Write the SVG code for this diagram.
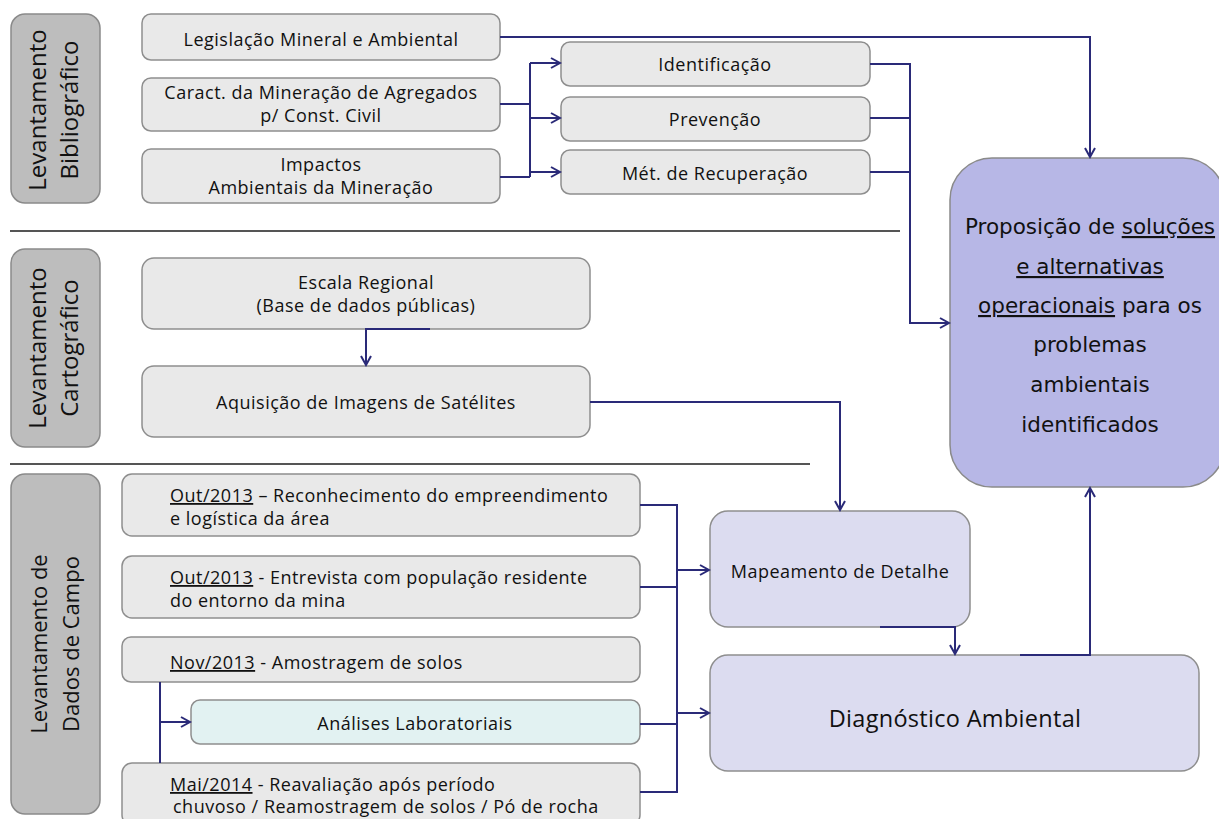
<svg xmlns="http://www.w3.org/2000/svg" width="1219" height="819" viewBox="0 0 1219 819">
<defs>
<marker id="ah" markerWidth="12" markerHeight="12" refX="10" refY="6" orient="auto" markerUnits="userSpaceOnUse">
<path d="M1,1 L10,6 L1,11" fill="none" stroke="#2a2a78" stroke-width="2"/>
</marker>
<style>
.side{fill:#bdbdbd;stroke:#8a8a8a;stroke-width:1.5}
.nd{fill:#e9e9e9;stroke:#8e8e8e;stroke-width:1.5}
.lab{fill:#e2f2f2;stroke:#8e8e8e;stroke-width:1.5}
.lil{fill:#dcdcf0;stroke:#8e8e8e;stroke-width:1.5}
.prop{fill:#b7b7e6;stroke:#8a8a8a;stroke-width:1.5}
.st{font-family:"Open Sans","Noto Sans",sans-serif;font-size:24px;fill:#111;text-anchor:middle}
.t{font-family:"Open Sans","Noto Sans",sans-serif;font-size:18px;letter-spacing:0.5px;fill:#111;text-anchor:middle}
.tl{font-family:"Open Sans","Noto Sans",sans-serif;font-size:18px;letter-spacing:0.5px;fill:#111}
.pt{font-family:"DejaVu Sans",Verdana,sans-serif;font-size:21.5px;fill:#111;text-anchor:middle}
.c{fill:none;stroke:#2a2a78;stroke-width:2}
.sep{stroke:#555;stroke-width:2}
</style>
</defs>
<rect width="1219" height="819" fill="#fff"/>
<line class="sep" x1="10" y1="231" x2="900" y2="231"/>
<line class="sep" x1="10" y1="464" x2="810" y2="464"/>

<g id="side1"><rect class="side" x="11" y="14" width="89" height="189" rx="14"/>
<text class="st" transform="translate(46,110) rotate(-90)">Levantamento</text>
<text class="st" transform="translate(78,110) rotate(-90)">Bibliográfico</text></g>
<g id="side2"><rect class="side" x="11" y="249" width="89" height="198" rx="14"/>
<text class="st" transform="translate(46,348) rotate(-90)">Levantamento</text>
<text class="st" transform="translate(78,348) rotate(-90)">Cartográfico</text></g>
<g id="side3"><rect class="side" x="11" y="474" width="89" height="340" rx="14"/>
<text class="st" style="font-size:22px" transform="translate(47,644) rotate(-90)">Levantamento de</text>
<text class="st" style="font-size:22px" transform="translate(79,644) rotate(-90)">Dados de Campo</text></g>

<g id="legislacao"><rect class="nd" x="142" y="14" width="358" height="46" rx="9"/>
<text class="t" x="321" y="46">Legislação Mineral e Ambiental</text></g>
<g id="caract"><rect class="nd" x="142" y="78" width="358" height="53" rx="9"/>
<text class="t" x="321" y="99">Caract. da Mineração de Agregados</text>
<text class="t" x="321" y="122">p/ Const. Civil</text></g>
<g id="impactos"><rect class="nd" x="142" y="149" width="358" height="54" rx="9"/>
<text class="t" x="321" y="171">Impactos</text>
<text class="t" x="321" y="194">Ambientais da Mineração</text></g>
<g id="identificacao"><rect class="nd" x="561" y="42" width="309" height="44" rx="9"/>
<text class="t" x="715" y="71">Identificação</text></g>
<g id="prevencao"><rect class="nd" x="561" y="97" width="309" height="44" rx="9"/>
<text class="t" x="715" y="126">Prevenção</text></g>
<g id="recuperacao"><rect class="nd" x="561" y="150" width="309" height="44" rx="9"/>
<text class="t" x="715" y="180">Mét. de Recuperação</text></g>

<g id="escala"><rect class="nd" x="142" y="258" width="448" height="71" rx="12"/>
<text class="t" x="366" y="289">Escala Regional</text>
<text class="t" x="366" y="312">(Base de dados públicas)</text></g>
<g id="aquisicao"><rect class="nd" x="142" y="366" width="448" height="71" rx="12"/>
<text class="t" x="366" y="409">Aquisição de Imagens de Satélites</text></g>

<g id="out1"><rect class="nd" x="122" y="474" width="518" height="62" rx="10"/>
<text class="tl" x="170" y="502"><tspan text-decoration="underline">Out/2013</tspan> – Reconhecimento do empreendimento</text>
<text class="tl" x="170" y="525">e logística da área</text></g>
<g id="out2"><rect class="nd" x="122" y="556" width="518" height="62" rx="10"/>
<text class="tl" x="170" y="584"><tspan text-decoration="underline">Out/2013</tspan> - Entrevista com população residente</text>
<text class="tl" x="170" y="607">do entorno da mina</text></g>
<g id="nov"><rect class="nd" x="122" y="637" width="518" height="45" rx="9"/>
<text class="tl" x="170" y="669"><tspan text-decoration="underline">Nov/2013</tspan> - Amostragem de solos</text></g>
<g id="analises"><rect class="lab" x="191" y="700" width="449" height="44" rx="9"/>
<text class="t" x="415" y="730">Análises Laboratoriais</text></g>
<g id="mai"><rect class="nd" x="122" y="763" width="518" height="62" rx="10"/>
<text class="tl" x="170" y="791"><tspan text-decoration="underline">Mai/2014</tspan> - Reavaliação após período</text>
<text class="tl" x="173" y="813">chuvoso / Reamostragem de solos / Pó de rocha</text></g>

<g id="mapeamento"><rect class="lil" x="710" y="511" width="260" height="116" rx="18"/>
<text class="t" x="840" y="578">Mapeamento de Detalhe</text></g>
<g id="diagnostico"><rect class="lil" x="710" y="655" width="489" height="116" rx="18"/>
<text class="t" x="955" y="727" style="font-size:23.5px;letter-spacing:0.3px">Diagnóstico Ambiental</text></g>
<g id="proposicao"><rect class="prop" x="950" y="158" width="275" height="329" rx="42"/>
<text class="pt" x="1090" y="234">Proposição de <tspan text-decoration="underline">soluções</tspan></text>
<text class="pt" x="1090" y="274" text-decoration="underline">e alternativas</text>
<text class="pt" x="1090" y="313"><tspan text-decoration="underline">operacionais</tspan> para os</text>
<text class="pt" x="1090" y="352">problemas</text>
<text class="pt" x="1090" y="392">ambientais</text>
<text class="pt" x="1090" y="432">identificados</text></g>

<g id="connectors">
<polyline class="c" points="500,37 1090,37 1090,157" marker-end="url(#ah)"/>
<polyline class="c" points="500,104 530,104"/>
<polyline class="c" points="500,177 530,177"/>
<line class="c" x1="530" y1="63" x2="530" y2="177"/>
<polyline class="c" points="530,63 560,63" marker-end="url(#ah)"/>
<polyline class="c" points="530,118 560,118" marker-end="url(#ah)"/>
<polyline class="c" points="530,172 560,172" marker-end="url(#ah)"/>
<polyline class="c" points="870,64 910,64 910,323 949,323" marker-end="url(#ah)"/>
<polyline class="c" points="870,118 910,118"/>
<polyline class="c" points="870,172 910,172"/>
<polyline class="c" points="430,329 366,329 366,365" marker-end="url(#ah)"/>
<polyline class="c" points="590,402 840,402 840,510" marker-end="url(#ah)"/>
<polyline class="c" points="640,505 677,505 677,792 640,792"/>
<polyline class="c" points="640,587 677,587"/>
<polyline class="c" points="640,724 677,724"/>
<polyline class="c" points="677,570 709,570" marker-end="url(#ah)"/>
<polyline class="c" points="677,713 709,713" marker-end="url(#ah)"/>
<polyline class="c" points="160,682 160,763"/>
<polyline class="c" points="160,722 190,722" marker-end="url(#ah)"/>
<polyline class="c" points="880,627 955,627 955,654" marker-end="url(#ah)"/>
<polyline class="c" points="1020,655 1090,655 1090,488" marker-end="url(#ah)"/>
</g>
</svg>
